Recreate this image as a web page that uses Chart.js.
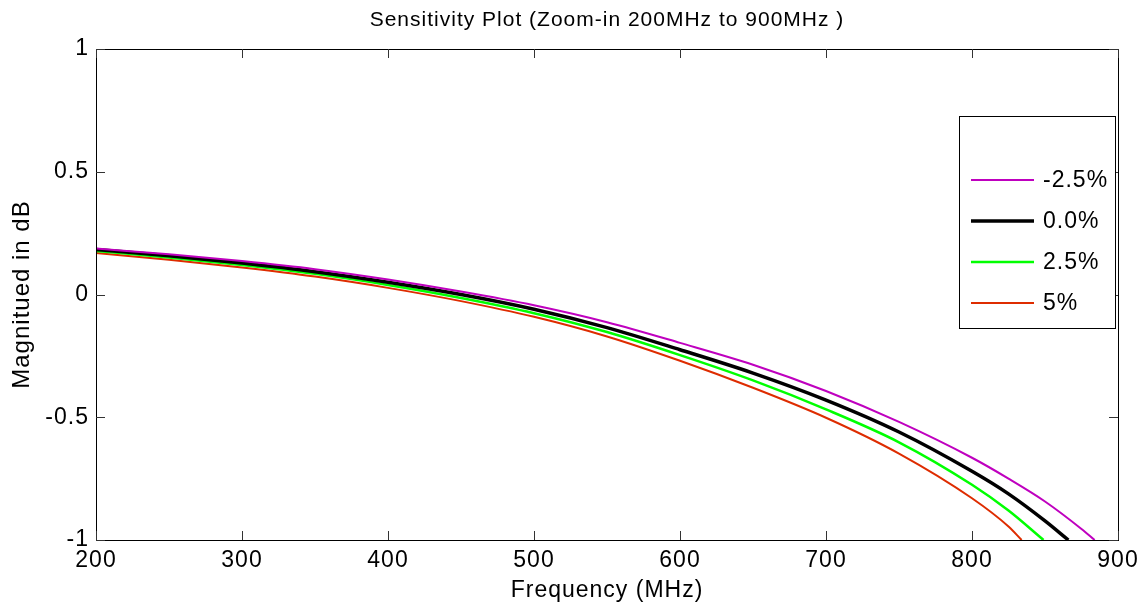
<!DOCTYPE html>
<html>
<head>
<meta charset="utf-8">
<script src="https://cdn.jsdelivr.net/npm/chart.js@4/dist/chart.umd.min.js"></script>
<style>
  html, body { margin: 0; padding: 0; background: #fff; }
  canvas { display: block; }
</style>
</head>
<body>
<canvas id="grafico" width="1146" height="608"></canvas>
<script>
// datos (MHz, dB)
const freqMagenta = [200, 250, 300, 350, 400, 450, 500, 550, 600, 650, 700, 750, 800, 825, 850, 875, 884];
const valMagenta  = [0.187, 0.164, 0.136, 0.103, 0.061, 0.012, -0.044, -0.113, -0.197, -0.286, -0.393, -0.519, -0.665, -0.75, -0.843, -0.955, -1.0];

const freqNegro = [200, 250, 300, 350, 400, 450, 500, 550, 600, 650, 700, 750, 800, 825, 850, 866];
const valNegro  = [0.183, 0.158, 0.128, 0.093, 0.050, 0.0, -0.06, -0.135, -0.225, -0.32, -0.43, -0.56, -0.72, -0.812, -0.922, -1.0];

const freqVerde = [200, 250, 300, 350, 400, 450, 500, 550, 600, 650, 700, 750, 800, 825, 849];
const valVerde  = [0.177, 0.151, 0.120, 0.084, 0.039, -0.014, -0.076, -0.153, -0.247, -0.35, -0.468, -0.602, -0.775, -0.88, -1.0];

const freqRojo = [200, 250, 300, 350, 400, 450, 500, 550, 600, 650, 700, 750, 800, 825, 834];
const valRojo  = [0.169, 0.142, 0.110, 0.073, 0.027, -0.027, -0.091, -0.171, -0.27, -0.38, -0.502, -0.648, -0.83, -0.945, -1.0];

const etiquetas = ['-2.5%', '0.0%', '2.5%', '5%'];
const ticksX = [200, 300, 400, 500, 600, 700, 800, 900];
const ticksY = [-1, -0.5, 0, 0.5, 1];

const fuente = '"Liberation Sans", Arial, sans-serif';

function puntos(xs, ys) {
    return xs.map((x, i) => ({x: x, y: ys[i]}));
}

// caja, marcas interiores, titulo y leyenda estilo matlab
const marcoMatlab = {
    id: 'marcoMatlab',
    beforeDraw(chart) {
        // el texto de matlab sale bastante espaciado
        chart.ctx.letterSpacing = '1px';
    },
    afterDraw(chart) {
        const ctx = chart.ctx;
        const a = chart.chartArea;
        const sx = chart.scales.x;
        const sy = chart.scales.y;
        ctx.save();
        ctx.strokeStyle = '#000';
        ctx.lineWidth = 1;
        ctx.strokeRect(Math.round(a.left) + 0.5, Math.round(a.top) + 0.5,
            Math.round(a.right - a.left), Math.round(a.bottom - a.top));

        ctx.strokeStyle = '#333';
        const largo = 9;
        ticksX.forEach(v => {
            const px = Math.round(sx.getPixelForValue(v)) + 0.5;
            ctx.beginPath();
            ctx.moveTo(px, a.bottom); ctx.lineTo(px, a.bottom - largo);
            ctx.moveTo(px, a.top); ctx.lineTo(px, a.top + largo);
            ctx.stroke();
        });
        ticksY.forEach(v => {
            const py = Math.round(sy.getPixelForValue(v)) + 0.5;
            ctx.beginPath();
            ctx.moveTo(a.left, py); ctx.lineTo(a.left + largo, py);
            ctx.moveTo(a.right, py); ctx.lineTo(a.right - largo, py);
            ctx.stroke();
        });

        // titulo
        ctx.fillStyle = '#000';
        ctx.font = '21px ' + fuente;
        ctx.textAlign = 'center';
        ctx.textBaseline = 'middle';
        ctx.fillText('Sensitivity Plot (Zoom-in 200MHz to 900MHz )', (a.left + a.right) / 2, 20);

        // leyenda
        const lx = 959, ly = 116, lw = 156, lh = 212;
        ctx.fillStyle = '#fff';
        ctx.fillRect(lx, ly, lw, lh);
        ctx.strokeStyle = '#000';
        ctx.lineWidth = 1;
        ctx.strokeRect(lx + 0.5, ly + 0.5, lw, lh);
        const filas = [180, 221, 262, 303];
        chart.data.datasets.forEach((ds, i) => {
            ctx.strokeStyle = ds.borderColor;
            ctx.lineWidth = ds.borderWidth;
            ctx.beginPath();
            ctx.moveTo(971, filas[i]);
            ctx.lineTo(1034, filas[i]);
            ctx.stroke();
            ctx.fillStyle = '#000';
            ctx.font = '23px ' + fuente;
            ctx.textAlign = 'left';
            ctx.textBaseline = 'middle';
            ctx.fillText(ds.label, 1043, filas[i] + 1);
        });
        ctx.restore();
        ctx.letterSpacing = '0px';
    }
};

const ctx_grafico = document.getElementById('grafico').getContext('2d');
const grafico = new Chart(ctx_grafico, {
    type: 'line',
    data: {
        datasets: [
            {
                label: etiquetas[0],
                data: puntos(freqMagenta, valMagenta),
                borderColor: 'rgb(191,0,191)',
                borderWidth: 2,
            },
            {
                label: etiquetas[1],
                data: puntos(freqNegro, valNegro),
                borderColor: 'rgb(0,0,0)',
                borderWidth: 3.5,
            },
            {
                label: etiquetas[2],
                data: puntos(freqVerde, valVerde),
                borderColor: 'rgb(0,255,0)',
                borderWidth: 2.5,
            },
            {
                label: etiquetas[3],
                data: puntos(freqRojo, valRojo),
                borderColor: 'rgb(222,44,0)',
                borderWidth: 2,
            },
        ],
    },
    options: {
        responsive: false,
        animation: false,
        layout: {
            padding: {top: 49, right: 28, left: 0, bottom: 0}
        },
        elements: {
            point: {radius: 0},
            line: {cubicInterpolationMode: 'monotone', fill: false}
        },
        plugins: {
            legend: {display: false},
            title: {display: false},
            tooltip: {enabled: false},
        },
        scales: {
            x: {
                type: 'linear',
                min: 200,
                max: 900,
                afterFit: s => { s.height = 68; },
                afterBuildTicks: s => { s.ticks = ticksX.map(v => ({value: v})); },
                grid: {display: false, drawTicks: false},
                border: {display: false},
                ticks: {
                    color: '#000',
                    padding: 7,
                    maxRotation: 0,
                    autoSkip: false,
                    font: {family: fuente, size: 23},
                },
                title: {
                    display: true,
                    text: 'Frequency (MHz)',
                    color: '#000',
                    font: {family: fuente, size: 23},
                    padding: {top: 0, bottom: 4},
                },
            },
            y: {
                type: 'linear',
                min: -1,
                max: 1,
                afterFit: s => { s.width = 96; },
                afterBuildTicks: s => { s.ticks = ticksY.map(v => ({value: v})); },
                grid: {display: false, drawTicks: false},
                border: {display: false},
                ticks: {
                    color: '#000',
                    padding: 7,
                    autoSkip: false,
                    font: {family: fuente, size: 23},
                    callback: v => String(v),
                },
                title: {
                    display: true,
                    text: 'Magnitued in dB',
                    color: '#000',
                    font: {family: fuente, size: 24},
                    padding: {top: 8, bottom: 0},
                },
            },
        },
    },
    plugins: [marcoMatlab],
});
</script>
</body>
</html>
